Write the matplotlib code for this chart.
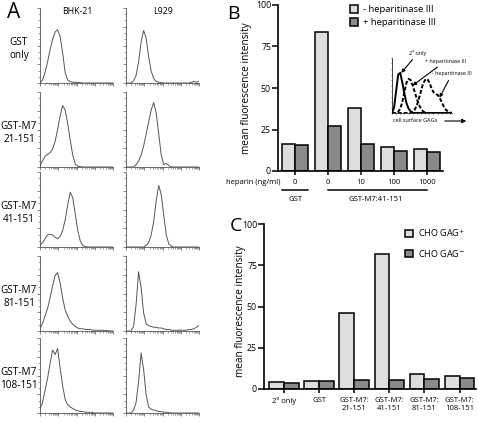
import numpy as np
import matplotlib.pyplot as plt
from matplotlib.ticker import MultipleLocator, FixedLocator
from matplotlib.transforms import blended_transform_factory

plt.rcParams['font.family'] = ['Open Sans', 'DejaVu Sans']

# ---- panel A: flow cytometry histograms (percent of axis height per channel bin)
col_titles = ['BHK-21', 'L929']
row_titles = ['GST\nonly', 'GST-M7\n21-151', 'GST-M7\n41-151', 'GST-M7\n81-151', 'GST-M7\n108-151']

bhk_gst = [0, 4, 14, 28, 44, 58, 68, 71, 62, 40, 14, 4, 2, 1, 1, 0.5, 0.5, 0, 0, 0, 0, 0, 0, 0, 0, 0, 0, 0, 0, 0]
l929_gst = [0, 0, 0, 3, 10, 28, 55, 70, 60, 35, 16, 6, 2, 1, 0.5, 0, 0, 0, 0, 0, 0, 0, 0, 0, 0, 0, 1, 2, 1, 2]
bhk_21 = [2, 8, 14, 17, 19, 24, 34, 50, 68, 82, 76, 58, 36, 16, 4, 1, 0.5, 0, 0, 0, 0, 0, 0, 0, 0, 0, 0, 0, 0, 0]
l929_21 = [0, 0, 0, 0, 3, 8, 16, 28, 44, 60, 76, 86, 72, 44, 16, 3, 5, 2, 0, 0, 0, 0, 0, 0, 0, 0, 0, 0, 0, 0]
bhk_41 = [2, 6, 11, 16, 17, 16, 13, 11, 14, 22, 36, 56, 73, 66, 44, 22, 8, 2, 0.5, 0, 0, 0, 0, 0, 0, 0, 0, 0, 0, 0]
l929_41 = [0, 0, 0, 0, 0, 0, 0, 0, 2, 6, 16, 34, 62, 82, 70, 42, 16, 4, 1, 0, 0, 0, 0, 0, 0, 0, 0, 0, 0, 0]
bhk_81 = [3, 10, 20, 30, 44, 60, 74, 78, 64, 44, 28, 20, 13, 9, 6, 4, 3, 3, 2, 2, 2, 1, 1, 1, 1, 1, 0.5, 0.5, 0, 0]
l929_81 = [0, 0, 0, 6, 35, 79, 58, 24, 10, 7, 6, 5, 5, 4, 4, 3, 2, 2, 1, 1, 1, 1, 1, 1, 1, 2, 2, 3, 5, 7]
bhk_108 = [5, 14, 30, 46, 66, 84, 78, 86, 60, 36, 18, 11, 8, 6, 4, 3, 2, 2, 1, 1, 1, 0.5, 0, 0, 0, 0, 0, 0, 0, 0]
l929_108 = [0, 0, 0, 4, 14, 42, 80, 58, 24, 8, 5, 4, 3, 2, 2, 1, 1, 0.5, 0, 0, 0, 0, 0, 0, 0, 0, 0, 0, 0, 0]

hist_rows = [(bhk_gst, l929_gst), (bhk_21, l929_21), (bhk_41, l929_41),
             (bhk_81, l929_81), (bhk_108, l929_108)]

# ---- panel B
heparin_labels = ['0', '0', '10', '100', '1000']
b_minus_hep = [16, 84, 38, 14.3, 13.1]
b_plus_hep = [15.7, 27, 16.3, 12.2, 11.3]

# inset of panel B
inset_2nd = [0, 10, 40, 70, 73, 55, 35, 18, 8, 3, 0, 0, 0, 0, 0, 0, 0, 0, 0, 0, 0, 0, 0, 0, 0, 0, 0, 0, 0, 0]
inset_plus = [0, 0, 0, 2, 8, 20, 38, 55, 62, 60, 50, 38, 26, 15, 8, 3, 1, 0, 0, 0, 0, 0, 0, 0, 0, 0, 0, 0, 0, 0]
inset_minus = [0, 0, 0, 0, 0, 0, 0, 0, 0, 0, 2, 6, 14, 26, 40, 53, 60, 62, 56, 46, 38, 35, 33, 28, 20, 12, 6, 3, 1, 0]

# ---- panel C
c_labels = ['2º only', 'GST', 'GST-M7:\n21-151', 'GST-M7:\n41-151', 'GST-M7:\n81-151', 'GST-M7:\n108-151']
c_gag_pos = [4.2, 5.0, 46, 82, 9.3, 7.6]
c_gag_neg = [3.4, 5.0, 5.6, 5.6, 6.1, 6.6]

light = '#dedede'
dark = '#8a8a8a'

W, H = 478, 422
fig = plt.figure(figsize=(W / 100, H / 100), dpi=100)


def box(x0, y0, x1, y1):
    return [x0 / W, 1 - y1 / H, (x1 - x0) / W, (y1 - y0) / H]


def fx(x):
    return x / W


def fy(y):
    return 1 - y / H


# ---------------- panel A
fig.text(fx(14), fy(13), 'A', fontsize=15, ha='center', va='center')
col_left = [40, 126]
row_top = [8, 92, 172, 256, 338]
for c, t in enumerate(col_titles):
    fig.text(fx(col_left[c] + 37), fy(12), t, fontsize=6.3, ha='center', va='center')
for r, t in enumerate(row_titles):
    fig.text(fx(19), fy(row_top[r] + 41), t, fontsize=7.2, ha='center', va='center',
             linespacing=1.3)
    for c in range(2):
        vals = hist_rows[r][c]
        ax = fig.add_axes(box(col_left[c], row_top[r], col_left[c] + 73, row_top[r] + 75))
        ax.plot(np.arange(len(vals)), vals, color='#555555', lw=0.7)
        n = len(vals) - 1
        ax.set_xlim(0, n)
        ax.set_ylim(0, 100)
        for s in ['top', 'right']:
            ax.spines[s].set_visible(False)
        for s in ['left', 'bottom']:
            ax.spines[s].set_linewidth(0.6)
            ax.spines[s].set_color('#555555')
        dec = n / 4
        ax.xaxis.set_major_locator(FixedLocator([dec * d for d in range(5)]))
        ax.xaxis.set_minor_locator(FixedLocator(
            [dec * (d + np.log10(k)) for d in range(4) for k in range(2, 10)]))
        ax.yaxis.set_major_locator(MultipleLocator(25))
        ax.yaxis.set_minor_locator(MultipleLocator(25 / 3))
        ax.tick_params(which='major', length=2.5, width=0.5, color='#555555',
                       labelbottom=False, labelleft=False)
        ax.tick_params(which='minor', length=1.3, width=0.4, color='#555555')

# ---------------- panel B
fig.text(fx(233), fy(14), 'B', fontsize=14, ha='center', va='center')
axb = fig.add_axes(box(278, 5, 443, 171))
xb = np.arange(len(b_minus_hep))
bw = 0.39
bm = axb.bar(xb - bw / 2, b_minus_hep, bw, color=light, edgecolor='k', lw=1.1)
bp = axb.bar(xb + bw / 2, b_plus_hep, bw, color=dark, edgecolor='k', lw=1.1)
axb.set_xlim(-0.515, 4.48)
axb.set_ylim(0, 100)
axb.set_yticks([0, 25, 50, 75, 100])
axb.set_xticks(xb, heparin_labels)
axb.tick_params(axis='y', length=4, width=1.1, labelsize=6.3, pad=1)
axb.tick_params(axis='x', length=3, width=1.1, labelsize=5.5, pad=3)
for s in ['top', 'right']:
    axb.spines[s].set_visible(False)
for s in ['left', 'bottom']:
    axb.spines[s].set_linewidth(1.2)
axb.set_ylabel('mean fluorescence intensity', fontsize=7.2, labelpad=3)
fig.text(fx(281), fy(182), 'heparin (ng/ml)', fontsize=5.5, ha='right', va='center')
tb = blended_transform_factory(axb.transData, axb.transAxes)
axb.plot([-bw, bw], [-0.115, -0.115], transform=tb, clip_on=False, color='k', lw=1.1)
axb.plot([1, 4], [-0.115, -0.115], transform=tb, clip_on=False, color='k', lw=1.1)
axb.text(0, -0.17, 'GST', transform=tb, fontsize=5.5, ha='center', va='center')
axb.text(2.45, -0.17, 'GST-M7:41-151', transform=tb, fontsize=5.5, ha='center', va='center')
axb.legend([bm, bp], ['- heparitinase III', '+ heparitinase III'], loc='upper left',
           bbox_to_anchor=(fx(350), fy(5)), bbox_transform=fig.transFigure,
           frameon=False, fontsize=6.8, handlelength=0.85, handleheight=0.85,
           handletextpad=0.5, labelspacing=0.45, borderpad=0, borderaxespad=0)

# inset
axi = fig.add_axes(box(392, 58, 452, 113))
xi = np.arange(len(inset_2nd))
axi.plot(xi, inset_2nd, color='k', lw=1.4)
axi.plot(xi, inset_plus, color='k', lw=1.4, ls=(0, (2, 1)))
axi.plot(xi, inset_minus, color='k', lw=1.4, ls=(0, (2, 1)))
axi.set_xlim(0, len(xi) - 1)
axi.set_ylim(0, 100)
for s in ['top', 'right']:
    axi.spines[s].set_visible(False)
for s in ['left', 'bottom']:
    axi.spines[s].set_linewidth(0.5)
axi.set_xticks(np.arange(0, len(xi), 2))
axi.set_yticks(np.arange(0, 101, 10))
axi.tick_params(length=1, width=0.4, labelbottom=False, labelleft=False)
arrow = dict(arrowstyle='-|>', color='k', lw=0.8, mutation_scale=5, shrinkA=1, shrinkB=0)
i2 = int(np.argmax(inset_2nd))
axi.annotate('2º only', xy=(i2 + 0.5, inset_2nd[i2]), xytext=(fx(418), fy(53)),
             textcoords='figure fraction', fontsize=4, ha='center', va='center',
             arrowprops=arrow)
ip = int(np.argmax(inset_plus)) + 2
axi.annotate('+ heparitinase III', xy=(ip, inset_plus[ip]), xytext=(fx(425), fy(61)),
             textcoords='figure fraction', fontsize=3.8, ha='left', va='center',
             arrowprops=arrow)
im = 23
axi.annotate('- heparitinase III', xy=(im, inset_minus[im]), xytext=(fx(432), fy(74)),
             textcoords='figure fraction', fontsize=3.8, ha='left', va='center',
             arrowprops=arrow)
fig.text(fx(393), fy(121), 'cell surface GAGs', fontsize=4, ha='left', va='center')
axi.annotate('', xy=(fx(469), fy(121)), xytext=(fx(442), fy(121)),
             xycoords='figure fraction', textcoords='figure fraction',
             arrowprops=dict(arrowstyle='-|>', color='k', lw=0.8, mutation_scale=6))

# ---------------- panel C
fig.text(fx(236), fy(226), 'C', fontsize=14, ha='center', va='center')
axc = fig.add_axes(box(264, 224, 476, 389))
xc = np.arange(len(c_gag_pos))
cw = 0.42
cp = axc.bar(xc - cw / 2, c_gag_pos, cw, color=light, edgecolor='k', lw=1.1)
cn = axc.bar(xc + cw / 2, c_gag_neg, cw, color=dark, edgecolor='k', lw=1.1)
axc.set_xlim(-0.57, 5.47)
axc.set_ylim(0, 100)
axc.set_yticks([0, 25, 50, 75, 100])
axc.set_xticks(xc, c_labels)
axc.tick_params(axis='y', length=4, width=1.1, labelsize=6.3, pad=1)
axc.tick_params(axis='x', length=3, width=1.1, labelsize=5.5, pad=3)
for s in ['top', 'right']:
    axc.spines[s].set_visible(False)
for s in ['left', 'bottom']:
    axc.spines[s].set_linewidth(1.2)
axc.set_ylabel('mean fluorescence intensity', fontsize=7.2, labelpad=3)
axc.yaxis.set_label_coords(-0.085, 0.47)
axc.legend([cp, cn], ['CHO GAG$^{+}$', 'CHO GAG$^{-}$'], loc='upper left',
           bbox_to_anchor=(fx(405), fy(227)), bbox_transform=fig.transFigure,
           frameon=False, fontsize=6.5, handlelength=0.85, handleheight=0.85,
           handletextpad=0.6, labelspacing=1.0, borderpad=0, borderaxespad=0)

fig.savefig('out.png', dpi=100)
